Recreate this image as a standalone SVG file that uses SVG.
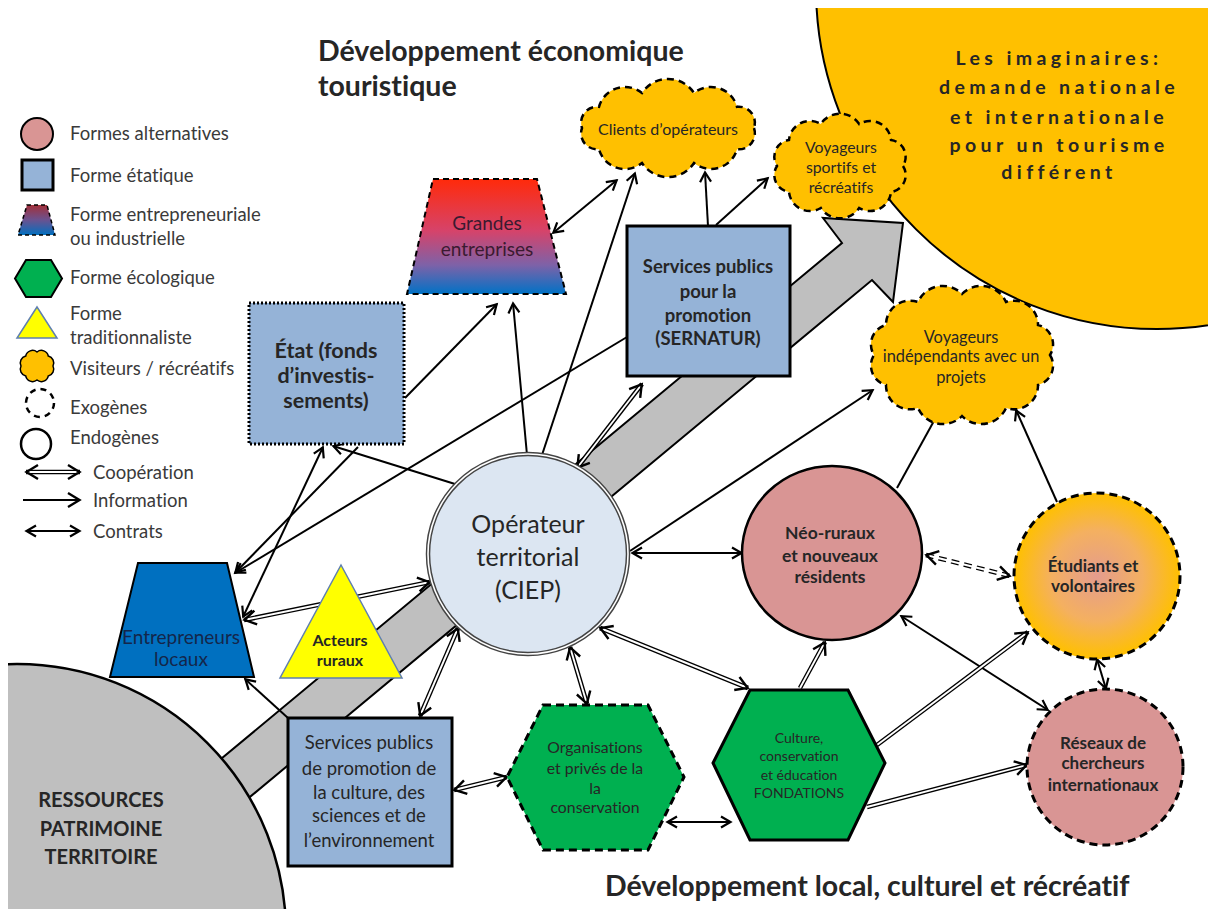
<svg xmlns="http://www.w3.org/2000/svg" width="1208" height="909" viewBox="0 0 1208 909">
<defs>
<style>
text{font-family:Lato,"Liberation Sans",sans-serif;fill:#262626;text-anchor:middle;font-variant-ligatures:none}
.b{font-weight:bold}
.lg{font-size:18.5px;fill:#3a3a3a;text-anchor:start}
.ln{stroke:#000;stroke-width:2;fill:none}
.coo{stroke:#000;stroke-width:4.6;fill:none}
.coi{stroke:#fff;stroke-width:1.9;fill:none}
.cloud{fill:#ffc000;stroke:#000;stroke-width:2.5;stroke-dasharray:7 5}
.dash{stroke-dasharray:8 5}
</style>
<marker id="ah" markerUnits="userSpaceOnUse" markerWidth="24" markerHeight="24" viewBox="-16 -12 24 24" refX="0" refY="0" orient="auto-start-reverse" overflow="visible">
<path d="M-10,-5.5 L-0.5,0 L-10,5.5" fill="none" stroke="#000" stroke-width="2.2"/>
</marker>
<marker id="ahc" markerUnits="userSpaceOnUse" markerWidth="24" markerHeight="24" viewBox="-16 -12 24 24" refX="0" refY="0" orient="auto-start-reverse" overflow="visible">
<path d="M-12,-7 L-0.5,0 L-12,7" fill="none" stroke="#000" stroke-width="2.4"/>
</marker>
<linearGradient id="gEnt" x1="0" y1="0" x2="0" y2="1">
<stop offset="0" stop-color="#ff2a0a"/>
<stop offset="0.45" stop-color="#d6436a"/>
<stop offset="0.75" stop-color="#7d62a8"/>
<stop offset="1" stop-color="#0072c6"/>
</linearGradient>
<linearGradient id="gLeg" x1="0" y1="0" x2="0" y2="1">
<stop offset="0" stop-color="#a3303a"/>
<stop offset="0.5" stop-color="#6a5290"/>
<stop offset="1" stop-color="#0070c0"/>
</linearGradient>
<radialGradient id="gEtu" cx="0.5" cy="0.5" r="0.5">
<stop offset="0" stop-color="#e49c8e"/>
<stop offset="0.55" stop-color="#f4b060"/>
<stop offset="1" stop-color="#ffc000"/>
</radialGradient>
<clipPath id="clipTop"><rect x="0" y="8" width="1208" height="901"/></clipPath>
<clipPath id="clipLeft"><rect x="8" y="0" width="1200" height="909"/></clipPath>
</defs>

<rect x="0" y="0" width="1208" height="909" fill="#fff"/>

<g id="imaginaires">
<circle cx="1157" cy="-12" r="341" fill="#ffc000" stroke="#000" stroke-width="2" clip-path="url(#clipTop)"/>
<text class="b" font-size="19.5" letter-spacing="4.4" x="1059" y="65">Les imaginaires:</text>
<text class="b" font-size="19.5" letter-spacing="4.4" x="1059" y="94">demande nationale</text>
<text class="b" font-size="19.5" letter-spacing="4.4" x="1059" y="124">et internationale</text>
<text class="b" font-size="19.5" letter-spacing="4.4" x="1059" y="152">pour un tourisme</text>
<text class="b" font-size="19.5" letter-spacing="4.4" x="1059" y="179">différent</text>
</g>

<g id="grand-fleche">
<polygon points="192,783 842,243 823,218 903,223 893,302 872,280 221,821" fill="#bfbfbf" stroke="#000" stroke-width="2" stroke-linejoin="miter"/>
</g>

<g id="ressources">
<circle cx="17" cy="933" r="269" fill="#bfbfbf" stroke="#000" stroke-width="2.5" clip-path="url(#clipLeft)"/>
<text class="b" font-size="20" x="101" y="807">RESSOURCES</text>
<text class="b" font-size="20" x="101" y="836">PATRIMOINE</text>
<text class="b" font-size="20" x="101" y="864">TERRITOIRE</text>
</g>

<g id="titres">
<text class="b" font-size="28.5" x="318" y="61" style="text-anchor:start">Développement économique</text>
<text class="b" font-size="28.5" x="318" y="96" style="text-anchor:start">touristique</text>
<text class="b" font-size="28.5" x="605" y="896" style="text-anchor:start">Développement local, culturel et récréatif</text>
</g>

<g id="connectors">
<path class="ln" d="M553,233 L617,180" marker-start="url(#ah)" marker-end="url(#ah)"/>
<path class="ln" d="M632,553 L742,553" marker-start="url(#ah)" marker-end="url(#ah)"/>
<path class="ln" d="M1097,659 L1106,689" marker-start="url(#ah)" marker-end="url(#ah)"/>
<path class="ln" d="M1048,710 L901,616" marker-start="url(#ah)" marker-end="url(#ah)"/>
<path class="ln" d="M667,822 L731,822" marker-start="url(#ah)" marker-end="url(#ah)"/>
<path class="ln" d="M323,447 L243,617" marker-start="url(#ah)" marker-end="url(#ah)"/>
<path class="ln" d="M527,455 L513,303" marker-end="url(#ah)"/>
<path class="ln" d="M542,455 L635,173" marker-end="url(#ah)"/>
<path class="ln" d="M405,398 L497,304" marker-end="url(#ah)"/>
<path class="ln" d="M627,337 L235,573" marker-end="url(#ah)"/>
<path class="ln" d="M358,447 L235,573" marker-end="url(#ah)"/>
<path class="ln" d="M455,484 L333,446" marker-end="url(#ah)"/>
<path class="ln" d="M708,226 L705,172" marker-end="url(#ah)"/>
<path class="ln" d="M716,225 L768,178" marker-end="url(#ah)"/>
<path class="ln" d="M630,551 L873,390" marker-end="url(#ah)"/>
<path class="ln" d="M897,488 L940,410" marker-end="url(#ah)"/>
<path class="ln" d="M1057,502 L1016,410" marker-end="url(#ah)"/>
<path class="ln" d="M288,718 L245,679" marker-end="url(#ah)"/>
<path class="coo" d="M577,468 L642,384"/><path class="coi" d="M577,468 L642,384" marker-start="url(#ahc)" marker-end="url(#ahc)"/>
<path class="coo" d="M800,688 L825,642"/><path class="coi" d="M800,688 L825,642" marker-end="url(#ahc)"/>
<path class="coo" d="M877,745 L1028,632"/><path class="coi" d="M877,745 L1028,632" marker-end="url(#ahc)"/>
<path class="coo" d="M867,807 L1027,765"/><path class="coi" d="M867,807 L1027,765" marker-end="url(#ahc)"/>
<path class="coo" d="M600,628 L748,688"/><path class="coi" d="M600,628 L748,688" marker-start="url(#ahc)" marker-end="url(#ahc)"/>
<path class="coo" d="M570,647 L587,704"/><path class="coi" d="M570,647 L587,704" marker-start="url(#ahc)" marker-end="url(#ahc)"/>
<path class="coo" d="M454,790 L507,777"/><path class="coi" d="M454,790 L507,777" marker-start="url(#ahc)" marker-end="url(#ahc)"/>
<path class="coo" d="M420,716 L458,628"/><path class="coi" d="M420,716 L458,628" marker-start="url(#ahc)" marker-end="url(#ahc)"/>
<path class="coo" d="M430,582 L244,620"/><path class="coi" d="M430,582 L244,620" marker-start="url(#ahc)" marker-end="url(#ahc)"/>
<path class="coo dash" d="M926,555 L1010,576"/><path class="coi" d="M926,555 L1010,576" marker-start="url(#ahc)" marker-end="url(#ahc)"/>
</g>

<g id="clients">
<path class="cloud" d="M754,128 A16,16 0 0 1 737,149.2 A27,27 0 0 1 694,163 A31,31 0 0 1 642,163 A27,27 0 0 1 599,149.2 A16,16 0 0 1 582,128 A16,16 0 0 1 599,106.8 A27,27 0 0 1 642,93 A31,31 0 0 1 694,93 A27,27 0 0 1 737,106.8 A16,16 0 0 1 754,128 Z"/>
<text font-size="16" x="668" y="134.5">Clients d’opérateurs</text>
</g>

<g id="voyageurs-sportifs">
<path class="cloud" d="M903,166 A17,17 0 0 1 891,192 A21,21 0 0 1 859.2,208 A23,23 0 0 1 820.8,208 A21,21 0 0 1 789,192 A17,17 0 0 1 777,166 A17,17 0 0 1 789,140 A21,21 0 0 1 820.8,124 A23,23 0 0 1 859.2,124 A21,21 0 0 1 891,140 A17,17 0 0 1 903,166 Z"/>
<text font-size="15.8" x="841" y="152.5">Voyageurs</text>
<text font-size="15.8" x="841" y="172.5">sportifs et</text>
<text font-size="15.8" x="841" y="192.5">récréatifs</text>
</g>

<g id="voyageurs-independants">
<path class="cloud" d="M1050,355 A20,20 0 0 1 1038,385 A24,24 0 0 1 1006,408 A27,27 0 0 1 962,416 A27,27 0 0 1 918,408 A24,24 0 0 1 886,385 A20,20 0 0 1 874,355 A20,20 0 0 1 886,325 A24,24 0 0 1 918,302 A27,27 0 0 1 962,294 A27,27 0 0 1 1006,302 A24,24 0 0 1 1038,325 A20,20 0 0 1 1050,355 Z"/>
<text font-size="16.4" x="961" y="343">Voyageurs</text>
<text font-size="16.4" x="961" y="362">indépendants avec un</text>
<text font-size="16.4" x="961" y="383">projets</text>
</g>

<g id="grandes-entreprises">
<polygon points="433,179 537,179 566,294 407,294" fill="url(#gEnt)" stroke="#000" stroke-width="2" stroke-dasharray="6 4"/>
<text font-size="19" x="487" y="229.5" style="fill:#3a1a30">Grandes</text>
<text font-size="19" x="487" y="255.5" style="fill:#3a1a30">entreprises</text>
</g>

<g id="etat">
<rect x="249" y="303" width="155" height="141" fill="#95b3d7" stroke="#000" stroke-width="3" stroke-dasharray="2 2"/>
<text class="b" font-size="21.5" x="326" y="357.5">État (fonds</text>
<text class="b" font-size="21.5" x="326" y="382.5">d’investis-</text>
<text class="b" font-size="21.5" x="326" y="407.5">sements)</text>
</g>

<g id="sernatur">
<rect x="627" y="226" width="163" height="150" fill="#95b3d7" stroke="#000" stroke-width="3"/>
<text class="b" font-size="18.5" x="708" y="272.5">Services publics</text>
<text class="b" font-size="18.5" x="708" y="297.5">pour la</text>
<text class="b" font-size="18.5" x="708" y="321.5">promotion</text>
<text class="b" font-size="18.5" x="708" y="344.5">(SERNATUR)</text>
</g>

<g id="ciep">
<circle cx="528" cy="554" r="100" fill="#dce6f2" stroke="#444" stroke-width="4.5"/>
<circle cx="528" cy="554" r="100" fill="none" stroke="#fff" stroke-width="1.6"/>
<text font-size="25" x="528" y="533">Opérateur</text>
<text font-size="25" x="528" y="566">territorial</text>
<text font-size="25" x="528" y="599">(CIEP)</text>
</g>

<g id="neo-ruraux">
<ellipse cx="832" cy="553" rx="90" ry="87" fill="#d99594" stroke="#000" stroke-width="2.5"/>
<text class="b" font-size="17.5" x="830" y="539">Néo-ruraux</text>
<text class="b" font-size="17.5" x="830" y="562">et nouveaux</text>
<text class="b" font-size="17.5" x="830" y="583">résidents</text>
</g>

<g id="etudiants">
<circle cx="1097" cy="576" r="83" fill="url(#gEtu)" stroke="#000" stroke-width="3" stroke-dasharray="8 5"/>
<text class="b" font-size="17" x="1093" y="572">Étudiants et</text>
<text class="b" font-size="17" x="1093" y="592">volontaires</text>
</g>

<g id="reseaux">
<circle cx="1105" cy="767" r="78" fill="#d99594" stroke="#000" stroke-width="3" stroke-dasharray="8 5"/>
<text class="b" font-size="17" x="1103" y="749">Réseaux de</text>
<text class="b" font-size="17" x="1103" y="769">chercheurs</text>
<text class="b" font-size="17" x="1103" y="791">internationaux</text>
</g>

<g id="fondations">
<polygon points="750,690 848,690 885,763 848,840 750,840 713,763" fill="#00b050" stroke="#000" stroke-width="3"/>
<text font-size="14" x="799" y="743">Culture,</text>
<text font-size="14" x="799" y="761">conservation</text>
<text font-size="14" x="799" y="780">et éducation</text>
<text font-size="14" x="799" y="798">FONDATIONS</text>
</g>

<g id="organisations">
<polygon points="543,705 648,705 684,777 648,850 543,850 507,777" fill="#00b050" stroke="#000" stroke-width="3" stroke-dasharray="8 5"/>
<text font-size="15.8" x="595" y="752.5">Organisations</text>
<text font-size="15.8" x="595" y="773.5">et privés de la</text>
<text font-size="15.8" x="595" y="793.5">la</text>
<text font-size="15.8" x="595" y="812.5">conservation</text>
</g>

<g id="services-culture">
<rect x="288" y="718" width="164" height="148" fill="#95b3d7" stroke="#000" stroke-width="3"/>
<text font-size="18.5" x="369" y="748.5">Services publics</text>
<text font-size="18.5" x="369" y="774.5">de promotion de</text>
<text font-size="18.5" x="369" y="798.5">la culture, des</text>
<text font-size="18.5" x="369" y="821.5">sciences et de</text>
<text font-size="18.5" x="369" y="846.5">l’environnement</text>
</g>

<g id="entrepreneurs">
<polygon points="138,563 227,563 254,677 110,677" fill="#0070c0" stroke="#000" stroke-width="2"/>
<text font-size="19" x="181" y="644" style="fill:#14264a">Entrepreneurs</text>
<text font-size="19" x="181" y="666" style="fill:#14264a">locaux</text>
</g>

<g id="acteurs-ruraux">
<polygon points="341,565 402,678 280,678" fill="#ffff00" stroke="#5f7fb0" stroke-width="1.5"/>
<text class="b" font-size="16" x="340" y="645.5">Acteurs</text>
<text class="b" font-size="16" x="340" y="665.5">ruraux</text>
</g>

<g id="legende">
<circle cx="37" cy="134" r="16" fill="#d99594" stroke="#000" stroke-width="2"/>
<text class="lg" x="70" y="139.5">Formes alternatives</text>
<rect x="22" y="160" width="31" height="30" fill="#95b3d7" stroke="#000" stroke-width="3"/>
<text class="lg" x="70" y="181.5">Forme étatique</text>
<polygon points="27,205 47,205 55,235 18,235" fill="url(#gLeg)" stroke="#000" stroke-width="1.5" stroke-dasharray="4 3"/>
<text class="lg" x="70" y="220.5">Forme entrepreneuriale</text>
<text class="lg" x="70" y="244.5">ou industrielle</text>
<polygon points="26,260 51,260 62,278.5 51,297 26,297 15,278.5" fill="#00b050" stroke="#000" stroke-width="2"/>
<text class="lg" x="70" y="283.5">Forme écologique</text>
<polygon points="37,307 57,338 17,338" fill="#ffff00" stroke="#5f7fb0" stroke-width="1.5"/>
<text class="lg" x="70" y="319.5">Forme</text>
<text class="lg" x="70" y="343.5">traditionnaliste</text>
<path d="M53,366 A7,7 0 0 1 48.3,375.9 A7,7 0 0 1 37,380 A7,7 0 0 1 25.7,375.9 A7,7 0 0 1 21,366 A7,7 0 0 1 25.7,356.1 A7,7 0 0 1 37,352 A7,7 0 0 1 48.3,356.1 A7,7 0 0 1 53,366 Z" fill="#ffc000" stroke="#000" stroke-width="1.5"/>
<text class="lg" x="70" y="374.5">Visiteurs / récréatifs</text>
<circle cx="40" cy="403" r="14" fill="none" stroke="#000" stroke-width="2.5" stroke-dasharray="6 5"/>
<text class="lg" x="70" y="413.5">Exogènes</text>
<circle cx="36" cy="444" r="15" fill="none" stroke="#000" stroke-width="2.5"/>
<text class="lg" x="70" y="443.5">Endogènes</text>
<path class="coo" d="M26,472 L80,472"/><path class="coi" d="M26,472 L80,472" marker-start="url(#ahc)" marker-end="url(#ahc)"/>
<text class="lg" x="93" y="478.5">Coopération</text>
<path class="ln" d="M23,500 L80,500" marker-end="url(#ahc)" stroke-width="2.5"/>
<text class="lg" x="93" y="506.5">Information</text>
<path class="ln" d="M26,531 L80,531" marker-start="url(#ah)" marker-end="url(#ah)"/>
<text class="lg" x="93" y="537.5">Contrats</text>
</g>
</svg>
